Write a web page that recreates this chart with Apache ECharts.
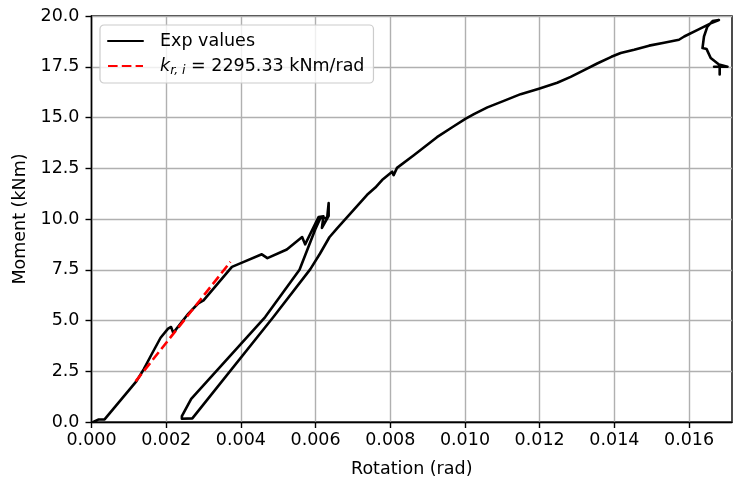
<!DOCTYPE html>
<html>
<head>
<meta charset="utf-8">
<script src="https://cdn.jsdelivr.net/npm/echarts@6/dist/echarts.min.js"></script>
<style>
html,body{margin:0;padding:0;background:#fff;}
#c{width:733px;height:483px;}
</style>
</head>
<body>
<div id="c"></div>
<script>
// Experimental moment-rotation path (rad, kNm), in drawing order
const expRotation = [
  0.00005, 0.00018, 0.00035, 0.00120, 0.00140, 0.00160, 0.00185, 0.00205, 0.00213, 0.00219,
  0.00259, 0.00286, 0.00300, 0.00376, 0.00403, 0.00456, 0.00471, 0.00523, 0.00564, 0.00572,
  0.00608, 0.00621, 0.00617, 0.00635, 0.00635, 0.00631, 0.00613, 0.00599, 0.00557, 0.00465,
  0.00267, 0.00242, 0.00242, 0.00270, 0.00487, 0.00586, 0.00612, 0.00637, 0.00657, 0.00675,
  0.00702, 0.00738, 0.00760, 0.00778, 0.00805, 0.00809, 0.00818, 0.00863, 0.00925, 0.00970,
  0.01001, 0.01024, 0.01060, 0.01104, 0.01149, 0.01198, 0.01247, 0.01283, 0.01319, 0.01354,
  0.01392, 0.01417, 0.01453, 0.01493, 0.01533, 0.01573, 0.01587, 0.01623, 0.01658, 0.01680,
  0.01663, 0.01649, 0.01640, 0.01636, 0.01647, 0.01658, 0.01680, 0.01703, 0.01667, 0.01682,
  0.01682
];
const expMoment = [
  0.00, 0.12, 0.13, 2.00, 2.60, 3.30, 4.15, 4.60, 4.68, 4.39,
  5.33, 5.85, 5.99, 7.64, 7.85, 8.26, 8.07, 8.50, 9.11, 8.75,
  10.10, 10.13, 9.56, 10.16, 10.78, 10.05, 10.05, 9.48, 7.50, 5.17,
  1.14, 0.29, 0.16, 0.18, 5.17, 7.53, 8.30, 9.10, 9.53, 9.89,
  10.45, 11.19, 11.55, 11.92, 12.33, 12.16, 12.52, 13.14, 14.03, 14.57,
  14.93, 15.17, 15.50, 15.82, 16.15, 16.42, 16.71, 17.00, 17.33, 17.66,
  17.99, 18.18, 18.34, 18.54, 18.68, 18.83, 18.99, 19.32, 19.64, 19.80,
  19.75, 19.48, 18.99, 18.42, 18.37, 17.93, 17.61, 17.50, 17.50, 17.50,
  17.12
];
// Initial stiffness fit line endpoints
const fitRotation = [0.00118, 0.00372];
const fitMoment = [2.00, 7.89];
const xTicks = [0, 0.002, 0.004, 0.006, 0.008, 0.010, 0.012, 0.014, 0.016];
const yTicks = [0, 2.5, 5, 7.5, 10, 12.5, 15, 17.5, 20];
const legendExp = 'Exp values';
const legendFit = 'kri';

const expData = expRotation.map((x, i) => [x, expMoment[i]]);
const fitData = fitRotation.map((x, i) => [x, fitMoment[i]]);

const FONT = 'DejaVu Sans';
const FS = 17.5;

const chart = echarts.init(document.getElementById('c'), null, {renderer: 'canvas'});
chart.setOption({
  animation: false,
  backgroundColor: '#ffffff',
  textStyle: {fontFamily: FONT},
  grid: {left: 91.5, right: 1, top: 16, bottom: 57, show: true, borderColor: '#000', borderWidth: 1.4, backgroundColor: 'transparent'},
  legend: {
    orient: 'vertical',
    left: 100, top: 25,
    padding: [7, 9, 6, 7],
    itemGap: 7,
    itemWidth: 35, itemHeight: 16,
    backgroundColor: 'rgba(255,255,255,0.8)',
    borderColor: '#cccccc', borderWidth: 1.2, borderRadius: 4,
    itemStyle: {opacity: 0},
    data: [legendExp, legendFit],
    formatter: function (name) {
      if (name === legendFit) return '{k|k}{s|r, i}{n| = 2295.33 kNm/rad}';
      return '{n0|' + name + '}';
    },
    textStyle: {
      fontFamily: FONT, fontSize: FS, color: '#000',
      rich: {
        n0: {fontFamily: FONT, fontSize: FS, color: '#000', padding: [0, 0, 0, 12]},
        k: {fontFamily: FONT, fontSize: FS, fontStyle: 'italic', color: '#000', padding: [0, 0, 0, 12]},
        s: {fontFamily: FONT, fontSize: 12.5, fontStyle: 'italic', color: '#000', padding: [9, 0, 0, 0]},
        n: {fontFamily: FONT, fontSize: FS, color: '#000'}
      }
    }
  },
  xAxis: {
    type: 'value', min: 0, max: 0.01715, interval: 0.002,
    name: 'Rotation (rad)', nameLocation: 'middle', nameGap: 38,
    nameTextStyle: {fontFamily: FONT, fontSize: FS, color: '#000'},
    axisLine: {show: true, onZero: false, lineStyle: {color: '#000', width: 1.4}},
    axisTick: {show: true, length: 6, lineStyle: {color: '#000', width: 1.4}, customValues: xTicks},
    axisLabel: {fontFamily: FONT, fontSize: FS, color: '#000', margin: 9, customValues: xTicks,
      formatter: v => v.toFixed(3)},
    splitLine: {show: true, lineStyle: {color: '#b0b0b0', width: 1.4}}
  },
  yAxis: {
    type: 'value', min: 0, max: 20, interval: 2.5,
    name: 'Moment (kNm)', nameLocation: 'middle', nameGap: 60, nameRotate: 90,
    nameTextStyle: {fontFamily: FONT, fontSize: FS, color: '#000'},
    axisLine: {show: true, onZero: false, lineStyle: {color: '#000', width: 1.4}},
    axisTick: {show: true, length: 6, lineStyle: {color: '#000', width: 1.4}, customValues: yTicks},
    axisLabel: {fontFamily: FONT, fontSize: FS, color: '#000', margin: 12, customValues: yTicks,
      formatter: v => v.toFixed(1)},
    splitLine: {show: true, lineStyle: {color: '#b0b0b0', width: 1.4}}
  },
  series: [
    {
      name: legendExp, type: 'line', data: expData, symbol: 'none', showSymbol: false,
      lineStyle: {color: '#000', width: 2.6, join: 'round', cap: 'round'},
      itemStyle: {color: '#000'}, z: 2, clip: true
    },
    {
      name: legendFit, type: 'line', data: fitData, symbol: 'none', showSymbol: false,
      lineStyle: {color: '#ff0000', width: 2.6, type: [9.6, 4.2]},
      itemStyle: {color: '#ff0000'}, z: 3
    }
  ]
});
</script>
</body>
</html>
